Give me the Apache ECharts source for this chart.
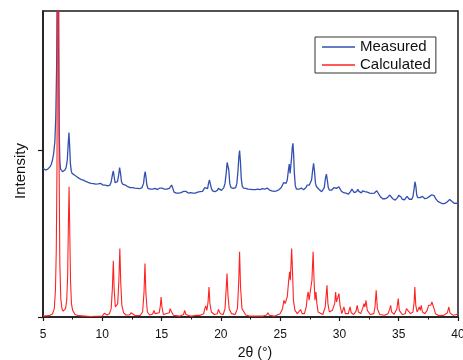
<!DOCTYPE html>
<html>
<head>
<meta charset="utf-8">
<script src="https://cdn.jsdelivr.net/npm/echarts@6/dist/echarts.min.js"></script>
<style>html,body{margin:0;padding:0;background:#fff}#c{width:463px;height:360px}</style>
</head>
<body>
<div id="c"></div>
<script>
// 2θ axis ticks
const xTicks = [5, 10, 15, 20, 25, 30, 35, 40];
const seriesNames = ['Measured', 'Calculated'];
// Measured pattern [2θ, intensity] (offset upward)
const measured = [
[5.00,0.89],[5.10,0.885],[5.20,0.88],[5.30,0.875],[5.40,0.885],[5.50,0.89],[5.60,0.90],[5.70,0.915],[5.80,0.94],[5.90,0.98],
[6.00,1.05],[6.08,1.20],[6.15,1.50],[6.20,2.00],[6.24,2.60],[6.28,2.30],[6.32,1.60],[6.37,1.10],[6.42,0.93],[6.48,0.885],
[6.55,0.875],[6.65,0.87],[6.75,0.875],[6.85,0.88],[6.95,0.895],[7.05,0.94],[7.12,1.03],[7.19,1.105],[7.25,1.02],[7.31,0.92],
[7.38,0.875],[7.45,0.86],[7.55,0.855],[7.65,0.85],[7.75,0.845],[7.85,0.84],[7.95,0.835],[8.05,0.83],[8.15,0.828],[8.25,0.822],
[8.35,0.82],[8.45,0.818],[8.55,0.815],[8.65,0.81],[8.75,0.812],[8.85,0.805],[8.95,0.808],[9.05,0.80],[9.15,0.802],[9.25,0.798],
[9.35,0.80],[9.45,0.795],[9.55,0.80],[9.65,0.797],[9.75,0.79],[9.85,0.80],[9.95,0.795],[10.05,0.79],[10.15,0.80],[10.25,0.79],
[10.35,0.788],[10.45,0.785],[10.55,0.787],[10.65,0.79],[10.75,0.81],[10.85,0.85],[10.93,0.874],[11.00,0.84],[11.08,0.805],[11.18,0.80],
[11.28,0.81],[11.38,0.85],[11.46,0.894],[11.54,0.86],[11.62,0.81],[11.72,0.795],[11.82,0.792],[11.95,0.79],[12.05,0.785],[12.15,0.78],
[12.25,0.778],[12.35,0.775],[12.45,0.782],[12.55,0.775],[12.65,0.77],[12.75,0.772],[12.85,0.768],[12.95,0.77],[13.05,0.765],[13.15,0.768],
[13.25,0.765],[13.35,0.775],[13.48,0.80],[13.56,0.85],[13.62,0.87],[13.68,0.84],[13.76,0.79],[13.85,0.77],[13.95,0.765],[14.05,0.765],
[14.15,0.762],[14.25,0.765],[14.35,0.775],[14.45,0.77],[14.55,0.765],[14.65,0.763],[14.75,0.765],[14.85,0.772],[14.95,0.78],[15.05,0.772],
[15.15,0.765],[15.25,0.765],[15.35,0.768],[15.45,0.765],[15.55,0.765],[15.65,0.77],[15.75,0.78],[15.85,0.79],[15.95,0.77],[16.05,0.748],
[16.15,0.745],[16.25,0.742],[16.35,0.745],[16.45,0.742],[16.55,0.745],[16.65,0.745],[16.75,0.748],[16.85,0.752],[16.95,0.76],[17.05,0.752],
[17.15,0.745],[17.25,0.742],[17.35,0.742],[17.45,0.745],[17.55,0.742],[17.65,0.742],[17.75,0.745],[17.85,0.742],[17.95,0.745],[18.05,0.748],
[18.15,0.755],[18.25,0.75],[18.35,0.748],[18.45,0.752],[18.55,0.762],[18.65,0.775],[18.72,0.78],[18.80,0.765],[18.88,0.768],[18.96,0.80],
[19.04,0.82],[19.12,0.795],[19.20,0.77],[19.30,0.755],[19.40,0.752],[19.50,0.75],[19.60,0.752],[19.70,0.758],[19.80,0.77],[19.86,0.775],
[19.95,0.76],[20.05,0.758],[20.15,0.762],[20.25,0.775],[20.35,0.80],[20.45,0.86],[20.53,0.925],[20.60,0.936],[20.67,0.88],[20.75,0.80],
[20.85,0.775],[20.95,0.768],[21.05,0.77],[21.15,0.768],[21.25,0.775],[21.35,0.80],[21.45,0.88],[21.52,0.96],[21.58,0.996],[21.65,0.93],
[21.72,0.83],[21.80,0.785],[21.90,0.772],[22.00,0.768],[22.10,0.77],[22.20,0.766],[22.30,0.765],[22.40,0.768],[22.50,0.764],[22.60,0.765],
[22.70,0.762],[22.80,0.765],[22.90,0.763],[23.00,0.762],[23.10,0.765],[23.20,0.766],[23.30,0.763],[23.40,0.765],[23.50,0.768],[23.60,0.762],
[23.70,0.765],[23.80,0.77],[23.90,0.772],[24.00,0.768],[24.10,0.76],[24.20,0.758],[24.30,0.755],[24.40,0.755],[24.50,0.752],[24.60,0.752],
[24.70,0.755],[24.80,0.758],[24.90,0.762],[25.00,0.765],[25.10,0.775],[25.20,0.79],[25.30,0.805],[25.40,0.81],[25.50,0.80],[25.60,0.82],
[25.70,0.88],[25.77,0.916],[25.84,0.86],[25.90,0.87],[25.96,0.95],[26.03,1.02],[26.08,1.04],[26.14,0.97],[26.20,0.86],[26.28,0.785],
[26.38,0.765],[26.48,0.762],[26.58,0.765],[26.68,0.768],[26.78,0.772],[26.88,0.765],[26.98,0.762],[27.08,0.765],[27.18,0.775],[27.28,0.79],
[27.37,0.80],[27.46,0.79],[27.55,0.80],[27.65,0.82],[27.73,0.87],[27.82,0.92],[27.90,0.87],[27.98,0.80],[28.07,0.78],[28.17,0.772],
[28.27,0.765],[28.37,0.755],[28.50,0.75],[28.60,0.755],[28.72,0.775],[28.82,0.83],[28.90,0.856],[28.98,0.82],[29.06,0.775],[29.15,0.76],
[29.25,0.756],[29.35,0.76],[29.45,0.765],[29.55,0.775],[29.65,0.784],[29.75,0.77],[29.85,0.765],[29.95,0.78],[30.05,0.77],[30.15,0.755],
[30.25,0.75],[30.35,0.744],[30.45,0.745],[30.55,0.742],[30.65,0.738],[30.75,0.735],[30.85,0.74],[30.95,0.752],[31.05,0.766],[31.15,0.755],
[31.25,0.745],[31.35,0.742],[31.45,0.75],[31.55,0.765],[31.65,0.752],[31.75,0.745],[31.85,0.742],[31.95,0.755],[32.05,0.758],[32.15,0.75],
[32.25,0.752],[32.35,0.748],[32.45,0.745],[32.55,0.742],[32.65,0.738],[32.75,0.74],[32.85,0.738],[32.95,0.742],[33.05,0.752],[33.15,0.756],
[33.25,0.745],[33.35,0.732],[33.45,0.72],[33.55,0.712],[33.65,0.708],[33.75,0.705],[33.85,0.708],[33.95,0.71],[34.05,0.715],[34.15,0.72],
[34.25,0.73],[34.32,0.735],[34.40,0.72],[34.50,0.708],[34.60,0.702],[34.70,0.70],[34.80,0.705],[34.90,0.715],[35.00,0.728],[35.10,0.735],
[35.20,0.718],[35.30,0.705],[35.40,0.70],[35.50,0.702],[35.60,0.71],[35.70,0.722],[35.80,0.718],[35.90,0.705],[36.00,0.70],[36.10,0.705],
[36.20,0.72],[36.30,0.77],[36.37,0.81],[36.45,0.78],[36.52,0.73],[36.60,0.715],[36.70,0.71],[36.80,0.715],[36.90,0.725],[37.00,0.722],
[37.10,0.712],[37.20,0.708],[37.30,0.71],[37.40,0.712],[37.50,0.715],[37.60,0.722],[37.70,0.728],[37.80,0.732],[37.90,0.735],[38.00,0.725],
[38.10,0.71],[38.20,0.70],[38.30,0.692],[38.40,0.688],[38.50,0.685],[38.60,0.682],[38.70,0.678],[38.80,0.677],[38.90,0.68],[39.00,0.682],
[39.10,0.69],[39.20,0.698],[39.30,0.703],[39.40,0.705],[39.50,0.692],[39.60,0.682],[39.70,0.68],[39.80,0.68],[39.90,0.682],[40.00,0.68]
];
// Calculated pattern [2θ, intensity]
const calculated = [
[5.0,0.005],[5.5,0.008],[5.8,0.018],[5.95,0.05],[6.05,0.16],[6.12,0.40],[6.18,0.90],[6.22,2.00],[6.27,4.0],[6.32,2.0],
[6.36,0.9],[6.42,0.32],[6.5,0.11],[6.6,0.05],[6.7,0.035],[6.8,0.035],[6.9,0.05],[7.0,0.10],[7.08,0.25],[7.14,0.55],
[7.2,0.78],[7.26,0.50],[7.32,0.22],[7.4,0.08],[7.5,0.04],[7.7,0.015],[8.0,0.008],[9.0,0.003],[10.0,0.006],[10.1,0.015],
[10.17,0.022],[10.25,0.012],[10.4,0.012],[10.6,0.02],[10.75,0.05],[10.85,0.17],[10.93,0.337],[11.0,0.17],[11.1,0.06],[11.2,0.05],
[11.3,0.08],[11.4,0.22],[11.48,0.41],[11.56,0.20],[11.65,0.07],[11.8,0.025],[12.0,0.012],[12.3,0.012],[12.42,0.025],[12.48,0.03],
[12.56,0.015],[12.8,0.008],[13.2,0.01],[13.4,0.03],[13.52,0.15],[13.6,0.32],[13.68,0.14],[13.8,0.03],[14.0,0.012],[14.25,0.018],
[14.36,0.04],[14.45,0.02],[14.6,0.012],[14.8,0.025],[14.9,0.07],[14.96,0.12],[15.03,0.06],[15.15,0.015],[15.3,0.015],[15.37,0.02],
[15.45,0.015],[15.65,0.025],[15.72,0.05],[15.78,0.06],[15.85,0.03],[16.0,0.01],[16.5,0.005],[16.85,0.015],[16.95,0.04],[17.05,0.015],
[17.5,0.005],[18.0,0.01],[18.15,0.02],[18.25,0.01],[18.55,0.02],[18.65,0.05],[18.72,0.066],[18.82,0.04],[18.92,0.09],[19.0,0.18],
[19.08,0.08],[19.2,0.03],[19.33,0.03],[19.45,0.015],[19.7,0.02],[19.8,0.045],[19.86,0.05],[19.95,0.02],[20.2,0.015],[20.35,0.05],
[20.45,0.17],[20.52,0.26],[20.6,0.13],[20.7,0.05],[20.77,0.045],[20.9,0.02],[21.2,0.015],[21.4,0.05],[21.5,0.20],[21.58,0.39],
[21.66,0.18],[21.78,0.05],[21.95,0.03],[22.1,0.012],[22.5,0.005],[23.5,0.005],[23.85,0.012],[23.97,0.025],[24.08,0.01],[24.5,0.005],
[25.0,0.02],[25.2,0.05],[25.32,0.10],[25.42,0.08],[25.5,0.07],[25.6,0.12],[25.72,0.22],[25.8,0.27],[25.86,0.22],[25.92,0.32],
[25.97,0.41],[26.04,0.28],[26.12,0.10],[26.25,0.04],[26.45,0.02],[26.6,0.025],[26.73,0.045],[26.85,0.02],[27.05,0.02],[27.2,0.06],
[27.3,0.13],[27.37,0.15],[27.44,0.10],[27.51,0.11],[27.6,0.10],[27.68,0.22],[27.78,0.39],[27.86,0.22],[27.94,0.10],[28.02,0.15],
[28.1,0.08],[28.2,0.03],[28.36,0.02],[28.6,0.015],[28.8,0.06],[28.88,0.13],[28.95,0.19],[29.03,0.08],[29.15,0.03],[29.3,0.025],
[29.4,0.04],[29.5,0.03],[29.6,0.08],[29.68,0.15],[29.75,0.09],[29.85,0.08],[29.96,0.14],[30.05,0.07],[30.2,0.02],[30.38,0.06],
[30.5,0.02],[30.75,0.02],[30.89,0.06],[31.0,0.025],[31.2,0.015],[31.4,0.035],[31.5,0.07],[31.6,0.03],[31.8,0.02],[31.95,0.05],
[32.07,0.08],[32.15,0.06],[32.24,0.10],[32.35,0.04],[32.6,0.015],[32.9,0.02],[33.0,0.06],[33.1,0.16],[33.2,0.05],[33.4,0.015],
[33.8,0.01],[34.1,0.02],[34.25,0.05],[34.32,0.07],[34.4,0.03],[34.6,0.015],[34.85,0.05],[34.96,0.11],[35.05,0.04],[35.3,0.015],
[35.55,0.02],[35.65,0.05],[35.72,0.06],[35.82,0.035],[35.9,0.04],[36.0,0.02],[36.2,0.03],[36.3,0.09],[36.36,0.18],[36.44,0.07],
[36.55,0.03],[36.65,0.04],[36.74,0.06],[36.82,0.04],[36.9,0.07],[37.0,0.03],[37.2,0.02],[37.4,0.04],[37.52,0.07],[37.6,0.08],
[37.7,0.07],[37.8,0.09],[37.88,0.10],[37.98,0.05],[38.1,0.02],[38.4,0.008],[38.8,0.01],[39.1,0.025],[39.23,0.06],[39.32,0.025],
[39.6,0.01],[39.85,0.015],[40.0,0.02]
];
const yTickValues = [0, 1];

const chart = echarts.init(document.getElementById('c'), null, {renderer: 'canvas'});
const FONT = '"Liberation Sans", Arial, sans-serif';
chart.setOption({
  animation: false,
  backgroundColor: '#fff',
  grid: {left: 43, right: 5, top: 11, bottom: 43, show: true, borderColor: '#1a1a1a', borderWidth: 1.5,
         containLabel: false, outerBoundsMode: 'none'},
  legend: {
    data: seriesNames.map(function (n) { return {name: n, icon: 'rect'}; }),
    orient: 'vertical',
    left: 315, top: 37,
    padding: [2, 5, 0, 7],
    itemGap: 2,
    itemWidth: 33,
    itemHeight: 1.3,
    backgroundColor: '#fff',
    borderColor: '#333',
    borderWidth: 1,
    borderRadius: 0,
    textStyle: {fontFamily: FONT, fontSize: 15, color: '#111', lineHeight: 16}
  },
  xAxis: {
    type: 'value',
    min: xTicks[0], max: xTicks[xTicks.length - 1], interval: 5,
    name: '2θ (°)',
    nameLocation: 'middle',
    nameGap: 29,
    nameTextStyle: {fontFamily: FONT, fontSize: 14, color: '#111', padding: [0, 0, 0, 9]},
    axisLine: {lineStyle: {color: '#1a1a1a', width: 1.5}},
    axisTick: {inside: false, length: 4, lineStyle: {color: '#1a1a1a', width: 1.2}},
    minorTick: {show: true, splitNumber: 2, length: 2.5, lineStyle: {color: '#1a1a1a', width: 1}},
    axisLabel: {fontFamily: FONT, fontSize: 12, color: '#111', margin: 12},
    splitLine: {show: false}
  },
  yAxis: {
    type: 'value',
    min: 0, max: 1.832,
    name: 'Intensity',
    nameLocation: 'middle',
    nameGap: 15,
    nameTextStyle: {fontFamily: FONT, fontSize: 15, color: '#111', padding: [0, 14, 0, 0]},
    axisLine: {show: true, lineStyle: {color: '#1a1a1a', width: 1.5}},
    axisTick: {show: true, inside: false, length: 5, customValues: yTickValues, lineStyle: {color: '#1a1a1a', width: 1.2}},
    axisLabel: {show: false},
    splitLine: {show: false}
  },
  series: [
    {name: seriesNames[0], type: 'line', data: measured, symbol: 'none', smooth: false, clip: true,
     lineStyle: {color: '#3350b0', width: 1.3}, itemStyle: {color: '#3350b0'}},
    {name: seriesNames[1], type: 'line', data: calculated, symbol: 'none', smooth: false, clip: true,
     lineStyle: {color: '#ff2222', width: 1.1}, itemStyle: {color: '#ff2222'}}
  ]
});
</script>
</body>
</html>
